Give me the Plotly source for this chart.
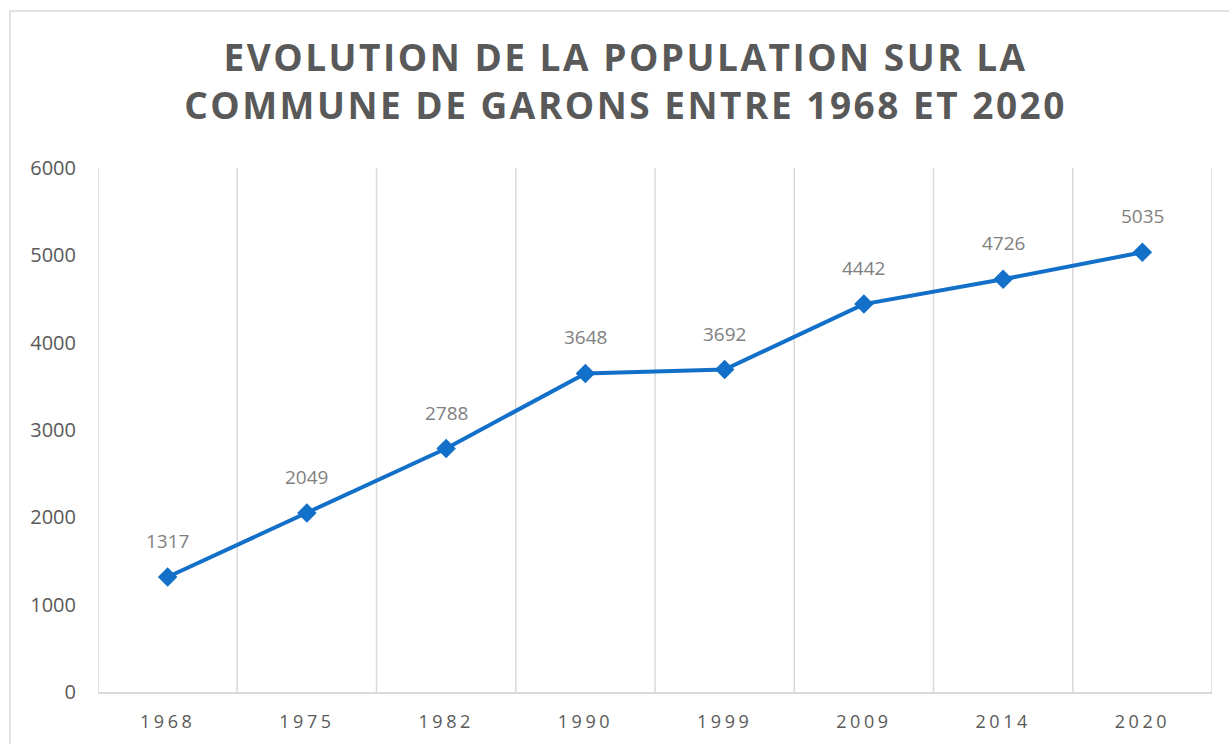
import plotly.graph_objects as go

years = ["1968", "1975", "1982", "1990", "1999", "2009", "2014", "2020"]
population = [1317, 2049, 2788, 3648, 3692, 4442, 4726, 5035]
y_ticks = [0, 1000, 2000, 3000, 4000, 5000, 6000]
title_text = "EVOLUTION DE LA POPULATION SUR LA<br>COMMUNE DE GARONS ENTRE 1968 ET 2020"

xs = list(range(len(years)))
blue = "#1270c8"

fig = go.Figure()
fig.add_trace(go.Scatter(
    x=xs, y=population, mode="lines+markers",
    line=dict(color=blue, width=4),
    marker=dict(symbol="diamond", size=15, color=blue),
    cliponaxis=False, showlegend=False,
))

annotations = [dict(x=x, y=v, text=str(v), showarrow=False, yshift=36,
                    font=dict(family="Open Sans", size=19, color="#7f7f7f"))
               for x, v in zip(xs, population)]

grid_color = "#d9d9d9"
shapes = []
for i in range(len(years) + 1):
    shapes.append(dict(type="line", xref="x", yref="paper", x0=i - 0.5, x1=i - 0.5,
                       y0=0, y1=1, line=dict(color=grid_color, width=1.5), layer="below"))
# chart border
shapes.append(dict(type="rect", xref="paper", yref="paper", x0=-0.079, x1=1.05, y0=-0.2, y1=1.2996,
                   line=dict(color="#d9d9d9", width=1.5), layer="below"))

fig.update_layout(
    width=1229, height=744,
    margin=dict(l=98, r=17, t=168, b=52),
    paper_bgcolor="white", plot_bgcolor="white",
    title=dict(text=title_text, x=0.509, xref="container", xanchor="center",
               y=0.905, yref="container", yanchor="top",
               font=dict(family="Open Sans", size=37, color="#595959", weight="bold")),
    xaxis=dict(range=[-0.5, len(years) - 0.5], tickmode="array", tickvals=xs, ticktext=years,
               showgrid=False, zeroline=False, showline=True, linecolor=grid_color, linewidth=1.5,
               ticks="", ticklabelstandoff=13,
               tickfont=dict(family="Open Sans", size=18, color="#595959")),
    yaxis=dict(range=[0, 6000], tickmode="array", tickvals=y_ticks, showgrid=False, zeroline=False,
               showline=False, ticks="", ticklabelstandoff=21,
               tickfont=dict(family="Open Sans", size=20, color="#595959")),
    shapes=shapes,
    annotations=annotations,
)

post = """
document.body.style.margin='0';
function ls(){
 document.querySelectorAll('.xtick text').forEach(function(t){t.style.letterSpacing='3.5px';});
 document.querySelectorAll('.gtitle').forEach(function(t){t.style.letterSpacing='2.5px';});
}
ls(); setTimeout(ls, 100);
"""
fig.write_html("out.html", post_script=post, config={"displayModeBar": False})
